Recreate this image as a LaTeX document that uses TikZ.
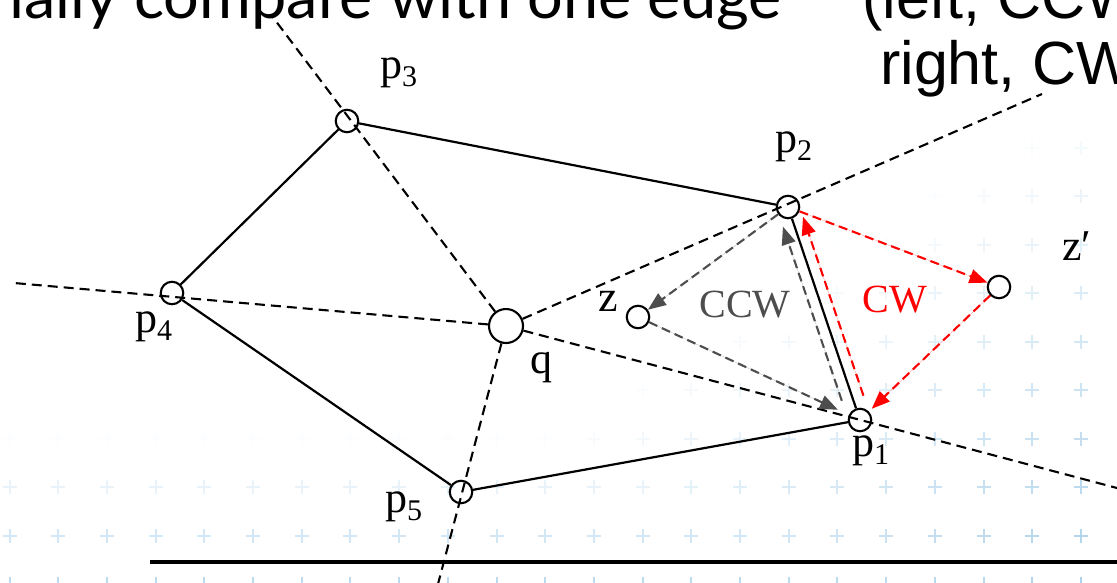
\documentclass[tikz,border=0pt]{standalone}
\usepackage{fontspec}
\setmainfont{Liberation Serif}
\newfontfamily\arialf{Liberation Sans}
\newfontfamily\gillf{Lato}
\usetikzlibrary{arrows.meta,calc}
\definecolor{crossc}{RGB}{120,180,220}
\definecolor{ccwgray}{RGB}{77,77,77}
\definecolor{cwred}{RGB}{255,0,0}
\newcommand{\plab}[1]{p\raisebox{-0.2em}{\fontsize{30}{30}\selectfont #1}}
\begin{document}
\begin{tikzpicture}[x=1pt,y=-1pt,
  vtx/.style={circle,draw,line width=2.1pt,minimum size=22.5pt,inner sep=0pt},
  qv/.style={vtx,minimum size=34pt},
  edge/.style={line width=2.2pt},
  ray/.style={line width=2.1pt,dash pattern=on 10pt off 6pt},
  lab/.style={font=\fontsize{44}{44}\selectfont,inner sep=0pt,anchor=base west},
  ccwarr/.style={draw=ccwgray,line width=2.1pt,dash pattern=on 9pt off 5pt,
     -{Triangle[length=18pt,width=14pt]}},
  cwarr/.style={ccwarr,draw=cwred,fill=cwred},
  big/.style={inner sep=0pt,font=\arialf\fontsize{61}{61}\selectfont},
  cross/.style={crossc,line width=2pt}
]
\useasboundingbox (0,0) rectangle (1117,582);
% background crosses
\foreach \i in {0,...,22}{
  \foreach \j in {3,...,12}{
    \pgfmathsetmacro{\cx}{9.5+48.7*\i}
    \pgfmathsetmacro{\cy}{2+48.5*\j}
    \pgfmathsetmacro{\fa}{(\cy-430)/320}
    \pgfmathsetmacro{\fb}{0.08+((\cx-700)*0.539+(\cy-390)*0.843)/348*0.5}
    \pgfmathsetmacro{\op}{max(0,min(0.6,max(\fa,\fb)))}
    \draw[cross,opacity=\op] (\cx-7,\cy) -- (\cx+7,\cy) (\cx,\cy-7) -- (\cx,\cy+7);
  }
}
% baseline bar
\draw[line width=4pt] (150,562) -- (1117,562);
% top text
\node[inner sep=0pt,font=\gillf\fontsize{63}{63}\selectfont,anchor=base east] (t1) at (782,18) {ially compare with one edge};
\node[big,anchor=base west] (t2) at (862,18) {(left, CCW};
\node[big,anchor=base west] (t3) at (880,84) {right, CW};
% vertices
\node[vtx] (p1) at (860,420) {};
\node[vtx] (p2) at (788,207) {};
\node[vtx] (p3) at (347,121) {};
\node[vtx] (p4) at (172,293) {};
\node[vtx] (p5) at (461,492) {};
\node[qv]  (q)  at (506,326) {};
\node[vtx] (z)  at (638,317) {};
\node[vtx] (zp) at (999,287) {};
% ray ends
\coordinate (e1) at (1117,488);
\coordinate (e2) at (1042,94);
\coordinate (e3) at (272,16);
\coordinate (e4) at (14,283);
\coordinate (e5) at (438,584);
\draw[ray] (q) -- (e1);
\draw[ray] (q) -- (e2);
\draw[ray] (q) -- (e3);
\draw[ray] (q) -- (e4);
\draw[ray] (q) -- (e5);
% polygon
\draw[edge] (p3) -- (p2);
\draw[edge] (p2) -- (p1);
\draw[edge] (p1) -- (p5);
\draw[edge] (p5) -- (p4);
\draw[edge] (p4) -- (p3);
% CCW arrows
\draw[ccwarr,fill=ccwgray] (p2) -- (z);
\draw[ccwarr,fill=ccwgray,shorten >=12pt] (z) -- (p1);
\draw[ccwarr,fill=ccwgray] ($(p1)!24pt!(p2)+(-10.5,3.5)$) -- ($(p2)!17pt!(p1)+(-10.5,3.5)$);
% CW arrows
\draw[cwarr] (p2) -- (zp);
\draw[cwarr,shorten >=4pt] (zp) -- (p1);
\draw[cwarr] ($(p1)!22pt!(p2)+(10.5,-3.5)$) -- ($(p2)!14pt!(p1)+(10.5,-3.5)$);
% labels
\node[lab] (lp3) at (380,78) {\plab{3}};
\node[lab] (lp2) at (775,152) {\plab{2}};
\node[lab] (lp1) at (852,456) {\plab{1}};
\node[lab] (lp4) at (135,332) {\plab{4}};
\node[lab] (lp5) at (385,512) {\plab{5}};
\node[lab] (lq)  at (530,373) {q};
\node[lab] (lz)  at (598,311) {z};
\node[lab] (lzp) at (1062,260) {z′};
\node[inner sep=0pt,font=\fontsize{40}{40}\selectfont,text=ccwgray] (tccw) at (745,305) {CCW};
\node[inner sep=0pt,font=\fontsize{40}{40}\selectfont,text=cwred] (tcw) at (895,300) {CW};
\end{tikzpicture}
\end{document}
